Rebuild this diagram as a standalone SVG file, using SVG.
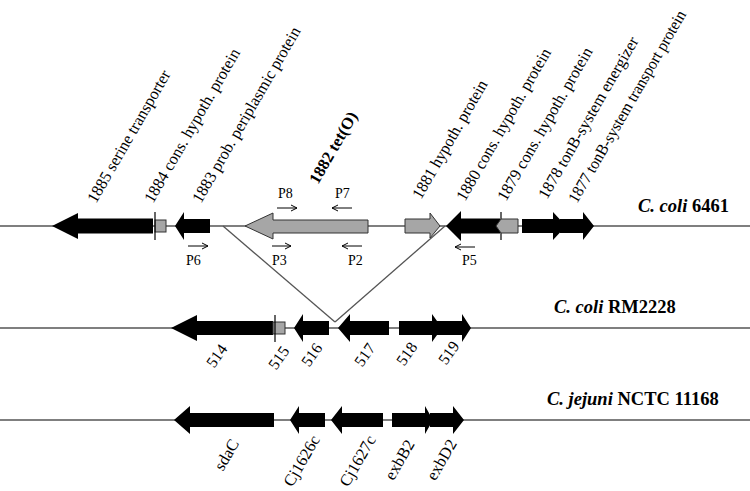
<svg xmlns="http://www.w3.org/2000/svg" width="750" height="491" viewBox="0 0 750 491">
<style>
.ln{stroke:#555;stroke-width:1.3;fill:none}
.blk{fill:#000}
.gry{fill:#a6a6a6;stroke:#333;stroke-width:1}
.tick{stroke:#000;stroke-width:1.2}
.lab{font-family:"Liberation Serif",serif;font-size:16.5px;fill:#000}
.pr{font-family:"Liberation Serif",serif;font-size:14px;fill:#000}
.num{font-family:"Liberation Serif",serif;font-size:16px;fill:#000}
.ttl{font-family:"Liberation Serif",serif;font-size:18.5px;font-weight:bold;fill:#000}
.pa{stroke:#000;stroke-width:1;fill:none}
</style>
<defs>
<marker id="ah" markerWidth="8" markerHeight="8" refX="7" refY="4" orient="auto" markerUnits="userSpaceOnUse"><path d="M1 1 L7 4 L1 7" fill="none" stroke="#000" stroke-width="1"/></marker>
</defs>
<g id="connectors">
<line class="ln" x1="0" y1="226" x2="750" y2="226"/>
<line class="ln" x1="0" y1="328" x2="750" y2="328"/>
<line class="ln" x1="0" y1="420" x2="750" y2="420"/>
<line class="ln" x1="223" y1="226" x2="335" y2="322"/>
<line class="ln" x1="335" y1="322" x2="445" y2="226"/>
</g>
<g id="row1">
<path id="g1885" class="blk" d="M52 226 L78 213 L78 218.5 L153 218.5 L153 233.5 L78 233.5 L78 239 Z"/>
<g id="g1884"><rect class="gry" x="155" y="220" width="11" height="12"/><line class="tick" x1="155" y1="212" x2="155" y2="240"/></g>
<path id="g1883" class="blk" d="M175 226 L184 212 L184 219 L210 219 L210 233 L184 233 L184 240 Z"/>
<path id="g1882" class="gry" d="M245 226 L273 213 L273 220 L368 220 L368 233 L273 233 L273 239 Z"/>
<path id="g1881" class="gry" d="M405 219 L430 219 L430 213 L440 226 L430 238 L430 233 L405 233 Z"/>
<path id="g1880" class="blk" d="M446 226 L461 211 L461 218.5 L500 218.5 L500 233.5 L461 233.5 L461 241 Z"/>
<g id="g1879"><line class="tick" x1="501" y1="212" x2="501" y2="240"/><path class="gry" d="M496 226 L501 219 L518 219 L518 233 L501 233 Z"/></g>
<path id="g1878" class="blk" d="M522 219 L553 219 L553 212 L566 226 L553 240 L553 233 L522 233 Z"/>
<path id="g1877" class="blk" d="M560 219 L583 219 L583 212 L594 226 L583 240 L583 233 L560 233 Z"/>
</g>
<g id="labels1">
<text class="lab" transform="translate(96,204) rotate(-60)" textLength="150" lengthAdjust="spacingAndGlyphs">1885 serine transporter</text>
<text class="lab" transform="translate(153,204) rotate(-60)" textLength="175" lengthAdjust="spacingAndGlyphs">1884 cons. hypoth. protein</text>
<text class="lab" transform="translate(201,204) rotate(-60)" textLength="200" lengthAdjust="spacingAndGlyphs">1883 prob. periplasmic protein</text>
<text class="lab" font-weight="bold" transform="translate(318,185) rotate(-60)" textLength="80" lengthAdjust="spacingAndGlyphs">1882 tet(O)</text>
<text class="lab" transform="translate(421,200) rotate(-60)" textLength="134" lengthAdjust="spacingAndGlyphs">1881 hypoth. protein</text>
<text class="lab" transform="translate(465,202) rotate(-60)" textLength="173" lengthAdjust="spacingAndGlyphs">1880 cons. hypoth. protein</text>
<text class="lab" transform="translate(506,202) rotate(-60)" textLength="174" lengthAdjust="spacingAndGlyphs">1879 cons. hypoth. protein</text>
<text class="lab" transform="translate(547,200) rotate(-60)" textLength="184" lengthAdjust="spacingAndGlyphs">1878  tonB-system energizer</text>
<text class="lab" font-size="14.5" transform="translate(577,204) rotate(-60)" textLength="219" lengthAdjust="spacingAndGlyphs">1877 tonB-system transport protein</text>
<text class="ttl" x="638" y="212"><tspan font-style="italic">C. coli</tspan>  6461</text>
</g>
<g id="primers">
<line class="pa" x1="277" y1="208" x2="297" y2="208" marker-end="url(#ah)"/><text class="pr" x="278" y="198">P8</text>
<line class="pa" x1="352" y1="208" x2="332" y2="208" marker-end="url(#ah)"/><text class="pr" x="335" y="198">P7</text>
<line class="pa" x1="188" y1="246" x2="208" y2="246" marker-end="url(#ah)"/><text class="pr" x="186" y="265">P6</text>
<line class="pa" x1="272" y1="246" x2="291" y2="246" marker-end="url(#ah)"/><text class="pr" x="272" y="265">P3</text>
<line class="pa" x1="362" y1="246" x2="342" y2="246" marker-end="url(#ah)"/><text class="pr" x="348" y="265">P2</text>
<line class="pa" x1="475" y1="247" x2="455" y2="247" marker-end="url(#ah)"/><text class="pr" x="462" y="265">P5</text>
</g>
<g id="row2">
<path id="g514" class="blk" d="M171 328 L197 315 L197 321 L273 321 L273 335 L197 335 L197 341 Z"/>
<g id="g515"><rect class="gry" x="273" y="322" width="12" height="12"/><line class="tick" x1="275" y1="315" x2="275" y2="342"/></g>
<path id="g516" class="blk" d="M294 328 L303 314 L303 321 L329 321 L329 335 L303 335 L303 342 Z"/>
<path id="g517" class="blk" d="M338 328 L350 314 L350 321 L389 321 L389 335 L350 335 L350 342 Z"/>
<path id="g518" class="blk" d="M399 321 L432 321 L432 314 L442 328 L432 342 L432 335 L399 335 Z"/>
<path id="g519" class="blk" d="M437 321 L462 321 L462 314 L471 328 L462 342 L462 335 L437 335 Z"/>
<g text-anchor="middle">
<text class="num" transform="translate(217,356) rotate(-55)" dy="5">514</text>
<text class="num" transform="translate(279,358) rotate(-55)" dy="5">515</text>
<text class="num" transform="translate(312,355) rotate(-55)" dy="5">516</text>
<text class="num" transform="translate(365,355) rotate(-55)" dy="5">517</text>
<text class="num" transform="translate(407,354) rotate(-55)" dy="5">518</text>
<text class="num" transform="translate(449,353) rotate(-55)" dy="5">519</text>
</g>
<text class="ttl" x="554" y="313"><tspan font-style="italic">C. coli</tspan>  RM2228</text>
</g>
<g id="row3">
<path id="sdaC" class="blk" d="M174 420 L190 406 L190 413 L274 413 L274 427 L190 427 L190 434 Z"/>
<path id="Cj1626c" class="blk" d="M290 420 L299 406 L299 413 L325 413 L325 427 L299 427 L299 434 Z"/>
<path id="Cj1627c" class="blk" d="M331 420 L342 406 L342 413 L383 413 L383 427 L342 427 L342 434 Z"/>
<path id="exbB2" class="blk" d="M392 413 L425 413 L425 406 L433 420 L425 434 L425 427 L392 427 Z"/>
<path id="exbD2" class="blk" d="M430 413 L453 413 L453 406 L464 420 L453 434 L453 427 L430 427 Z"/>
<g text-anchor="middle">
<text class="lab" transform="translate(227,455) rotate(-60)" dy="5">sdaC</text>
<text class="lab" transform="translate(302,461) rotate(-60)" dy="5">Cj1626c</text>
<text class="lab" transform="translate(358,461) rotate(-60)" dy="5">Cj1627c</text>
<text class="lab" transform="translate(400,460) rotate(-60)" dy="5">exbB2</text>
<text class="lab" transform="translate(442,460) rotate(-60)" dy="5">exbD2</text>
</g>
<text class="ttl" x="547" y="405"><tspan font-style="italic">C. jejuni</tspan>  NCTC 11168</text>
</g>
</svg>
